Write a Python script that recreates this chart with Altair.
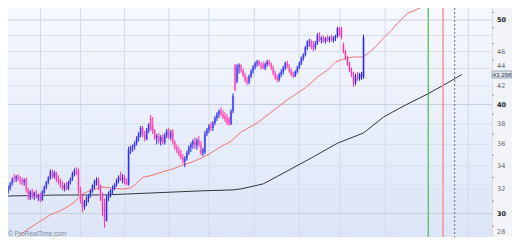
import altair as alt
import pandas as pd

# ---------------- data ----------------
opens = [31.5,31.8,32.1,32.5,33.0,32.9,33.1,32.8,32.7,32.6,32.9,31.9,31.3,31.8,31.4,31.7,31.3,31.5,31.1,31.7,
         32.2,32.6,33.0,33.5,33.1,33.4,32.8,32.6,32.3,32.1,32.3,32.0,32.6,32.9,33.3,33.6,33.6,31.9,31.2,30.5,
         30.9,31.2,31.5,31.9,32.3,32.6,32.8,32.1,31.3,30.5,29.4,31.3,31.6,31.9,32.1,32.4,32.7,33.1,32.8,33.0,
         32.6,32.4,35.5,35.7,35.8,36.1,36.6,37.0,37.6,36.9,36.5,37.4,38.6,37.9,37.3,36.6,36.8,36.3,36.7,36.2,
         36.9,37.3,36.7,37.2,36.2,35.7,35.4,35.1,34.8,34.4,34.7,35.2,35.7,36.0,36.3,35.9,36.4,36.0,35.2,35.3,
         37.0,37.4,37.8,37.6,38.1,38.6,39.0,39.4,39.0,38.8,38.6,38.5,38.0,39.3,44.4,42.5,44.2,44.3,43.7,43.2,
         42.6,42.4,43.1,43.7,44.2,44.6,44.8,44.4,44.5,44.0,44.5,44.8,44.5,44.0,43.4,42.9,42.7,43.3,43.6,44.1,
         44.7,44.2,43.7,43.3,43.1,43.6,44.1,44.6,45.2,45.6,46.5,47.2,47.3,46.8,46.5,47.0,48.1,47.4,47.7,47.3,
         47.6,47.4,47.8,47.4,47.7,47.9,48.9,48.9,46.9,45.9,45.2,44.5,43.8,43.3,42.3,43.1,42.8,43.0,43.0,53.2,
         53.8,54.2,54.0,54.4,55.0,54.7,55.1,55.5,55.2,54.9,55.1,55.4,55.0,54.5,54.7,54.3,53.9,54.1,53.8,53.4,
         53.3,52.8,53.0,52.4,53.3,53.8,54.1,54.0,54.3,54.6,54.2,53.9,53.5,53.7,53.4,53.0,53.3,53.6,52.9]
highs = [31.9,32.3,32.6,33.0,33.3,33.2,33.3,33.1,33.0,32.9,33.0,32.1,31.9,32.0,31.8,31.9,31.6,31.7,31.9,32.3,
         32.7,33.1,33.7,33.7,33.6,33.5,33.2,32.9,32.7,32.5,32.6,32.7,33.0,33.5,33.8,33.9,33.8,32.2,31.5,31.1,
         31.4,31.6,32.0,32.4,32.8,33.0,33.0,32.4,31.7,31.2,31.5,31.8,32.0,32.3,32.5,32.9,33.2,33.5,33.3,33.2,
         32.9,35.8,35.9,36.0,36.3,36.8,37.2,37.8,37.8,37.3,37.6,38.1,38.9,38.7,37.5,37.0,37.1,36.9,37.0,37.1,
         37.5,37.6,37.4,37.5,36.4,36.0,35.8,35.5,35.1,34.9,35.4,35.9,36.2,36.5,36.7,36.6,36.8,36.3,35.7,37.3,
         37.6,38.0,38.2,38.3,38.8,39.2,39.5,39.7,39.4,39.2,39.0,38.7,39.5,41.2,44.5,44.5,44.6,44.5,44.0,43.5,
         43.0,43.3,43.9,44.4,44.8,45.0,45.0,44.7,44.8,44.7,45.0,45.0,44.7,44.3,43.7,43.3,43.5,43.9,44.3,44.8,
         44.9,44.5,44.0,43.6,43.8,44.3,44.8,45.4,45.8,46.7,47.4,47.6,47.5,47.3,47.3,48.3,48.4,47.9,48.0,47.8,
         48.0,47.9,48.1,47.9,48.1,49.1,49.1,49.1,47.1,46.2,45.5,44.8,44.1,43.6,43.4,43.6,43.5,43.6,48.1,54.0,
         54.5,54.8,54.6,55.2,55.5,55.3,55.8,56.0,55.6,55.4,55.7,55.9,55.3,55.0,55.2,54.8,54.4,54.6,54.2,53.9,
         53.8,53.2,53.2,53.5,54.0,54.4,54.7,54.5,54.9,55.0,54.6,54.3,54.0,54.2,53.8,53.6,53.9,54.0,53.5]
lows = [31.3,31.6,31.9,32.3,32.6,32.6,32.7,32.4,32.3,32.3,31.7,31.1,31.1,31.2,31.1,31.2,31.0,30.9,31.0,31.6,
        32.0,32.4,32.8,32.9,32.9,32.6,32.4,32.1,31.9,31.8,31.9,31.9,32.4,32.7,33.1,33.2,31.6,30.8,30.1,30.3,
        30.6,30.9,31.3,31.7,32.0,32.3,31.9,31.0,29.8,28.9,29.4,31.0,31.3,31.6,31.9,32.2,32.5,32.7,32.5,32.4,
        32.3,32.3,35.1,35.3,35.5,35.9,36.3,36.7,36.7,36.3,36.4,37.1,37.3,37.0,36.4,36.0,36.1,35.9,36.0,36.0,
        36.6,36.5,36.4,36.0,35.5,35.2,34.9,34.6,34.2,33.9,34.5,35.0,35.3,35.6,35.6,35.5,35.8,35.0,34.9,35.1,
        36.8,37.1,37.3,37.3,37.9,38.3,38.6,38.8,38.5,38.2,37.9,37.8,37.9,39.1,41.4,42.3,43.4,43.5,43.0,42.4,
        42.1,42.2,42.9,43.4,43.9,44.2,44.3,43.9,43.9,43.8,44.2,44.3,43.8,43.2,42.7,42.4,42.5,43.0,43.3,43.8,
        44.0,43.5,43.1,42.9,43.0,43.4,43.9,44.4,44.9,45.4,46.2,46.6,46.3,46.0,46.2,46.8,47.2,47.0,47.1,47.0,
        47.2,47.1,47.2,47.1,47.3,47.7,47.9,47.5,45.8,45.0,44.3,43.6,43.0,41.9,42.1,42.6,42.6,42.7,42.8,53.0,
        53.4,53.8,53.6,54.1,54.4,54.3,54.8,54.9,54.6,54.3,54.7,54.8,54.2,53.9,54.0,53.6,53.3,53.5,53.1,52.8,
        52.0,51.7,51.9,52.2,53.0,53.4,53.7,53.5,53.9,54.0,53.6,53.2,53.0,53.1,52.8,52.7,52.9,52.6,52.4]
closes = [31.8,32.2,32.5,32.8,32.8,33.1,32.8,32.6,32.5,32.8,31.9,31.3,31.8,31.4,31.7,31.3,31.5,31.1,31.8,32.2,
          32.6,33.0,33.5,33.1,33.4,32.8,32.6,32.3,32.1,32.3,32.0,32.6,32.9,33.3,33.6,33.4,31.9,31.0,30.5,30.9,
          31.2,31.5,31.9,32.3,32.6,32.8,32.1,31.2,30.2,29.4,31.3,31.6,31.9,32.1,32.4,32.7,33.0,32.8,33.0,32.6,
          32.4,35.5,35.7,35.8,36.1,36.6,37.0,37.6,36.9,36.5,37.4,37.9,37.5,37.3,36.6,36.8,36.3,36.7,36.2,36.9,
          37.3,36.7,37.1,36.2,35.7,35.4,35.1,34.8,34.4,34.7,35.2,35.7,36.0,36.3,35.9,36.4,36.0,35.2,35.5,37.0,
          37.4,37.8,37.6,38.1,38.6,39.0,39.3,39.0,38.7,38.5,38.1,38.0,39.3,40.9,41.6,44.2,44.4,43.7,43.2,42.6,
          42.4,43.1,43.7,44.2,44.6,44.8,44.4,44.1,44.0,44.5,44.8,44.5,44.0,43.4,42.9,42.7,43.3,43.6,44.1,44.6,
          44.2,43.7,43.3,43.1,43.6,44.1,44.6,45.2,45.6,46.5,47.2,47.3,46.5,46.3,47.0,48.0,47.4,47.7,47.3,47.6,
          47.4,47.8,47.4,47.7,47.9,48.9,48.1,47.7,46.0,45.2,44.5,43.8,43.3,42.3,43.1,42.8,43.3,43.4,47.8,53.8,
          54.2,54.0,54.4,55.0,54.7,55.1,55.5,55.2,54.9,55.1,55.4,55.0,54.5,54.7,54.3,53.9,54.1,53.8,53.4,53.1,
          52.3,52.0,52.4,53.3,53.8,54.1,54.0,54.3,54.6,54.2,53.9,53.5,53.7,53.4,53.0,53.3,53.6,52.9,53.2]

ma_short_idx = [0,5,10,16,22,28,32,34,36,39,43,47,52,58,62,65,68,73,78,83,88,93,98,102,107,112,117,125,
                140,149,155,160,164,169,173,178,181,184,188,192,195,200,206,211,216,219]
ma_short_val = [27.8,28.1,28.7,29.3,29.9,30.3,30.7,30.9,31.3,31.7,31.9,32.2,32.1,32.0,32.1,32.5,33.0,33.2,33.5,
                33.75,34.1,34.4,34.8,35.2,35.8,36.3,37.2,38.1,40.5,41.8,43.0,43.8,44.75,45.2,
                45.35,45.35,45.95,46.6,47.7,48.7,49.6,50.9,51.6,52.3,52.7,53.1]
ma_long_idx = [0,24,49,73,97,113,117,128,141,152,165,178,188,199,210,218,227]
ma_long_val = [31.42,31.5,31.51,31.68,31.85,31.93,32.02,32.44,33.66,34.74,36.12,37.11,38.71,39.96,41.14,
               42.12,43.298]

month_idx = [17.1, 37.1, 59.0, 81.0, 101.0, 123.6, 145.9, 166.3, 188.8, 210.2, 230.2]
grid_prices = [30, 32, 34, 36, 38, 40, 42, 44, 46, 48, 50]
label_prices = [28, 30, 32, 34, 36, 38, 40, 42, 44, 46, 50]
minor_prices = [29, 31, 33, 35, 37, 39, 41, 43, 45, 47, 49, 51]
markers = [{"i": 210.2, "kind": "green"}, {"i": 217.6, "kind": "red"}, {"i": 223.4, "kind": "dotted"}]
last_value = 43.298
watermark = "© ProRealTime.com"

# ---------------- tables ----------------
bars = pd.DataFrame({"i": list(range(len(opens))), "o": opens, "h": highs, "l": lows, "c": closes})
bars["up"] = bars["c"] >= bars["o"]
short_df = pd.DataFrame({"i": ma_short_idx, "v": ma_short_val})
long_df = pd.DataFrame({"i": ma_long_idx, "v": ma_long_val})
month_df = pd.DataFrame({"i": month_idx})
grid_df = pd.DataFrame({"p": grid_prices, "major": [p % 10 == 0 for p in grid_prices]})
label_df = pd.DataFrame({"p": label_prices, "t": [str(p) for p in label_prices],
                         "major": [p % 10 == 0 for p in label_prices]})
minor_df = pd.DataFrame({"p": minor_prices})
marker_df = pd.DataFrame(markers)
last_df = pd.DataFrame({"p": [last_value], "t": [f"{last_value:.3f}"]})
one = pd.DataFrame({"a": [0]})

W, H = 484, 229
LO, HI = 28.20, 51.61
xs = alt.Scale(domain=[3.41, 239.5], nice=False, zero=False)
ys = alt.Scale(type="log", domain=[LO, HI], nice=False, zero=False)

X = lambda f: alt.X(f, type="quantitative", scale=xs, axis=None)
Y = lambda f: alt.Y(f, type="quantitative", scale=ys, axis=None)

bg = alt.Chart(one).mark_rect(
    color=alt.LinearGradient(gradient="linear",
                             stops=[alt.GradientStop(color="#f6f8ff", offset=0),
                                    alt.GradientStop(color="#dce5f7", offset=1)],
                             x1=0, x2=0, y1=0, y2=1)
).encode(x=alt.value(0), x2=alt.value(W), y=alt.value(0), y2=alt.value(H))

hgrid = alt.Chart(grid_df).mark_rule(strokeWidth=1).encode(
    y=Y("p"),
    color=alt.condition("datum.major", alt.value("#c6cede"), alt.value("#d8dfec")),
)
vgrid = alt.Chart(month_df).mark_rule(color="#d3dae9", strokeWidth=1).encode(x=X("i"))

body = alt.Chart(bars).mark_bar(width=2.2, clip=True).encode(
    x=X("i"), y=Y("o"), y2="c",
    color=alt.condition("datum.up", alt.value("#8f90f2"), alt.value("#ff9fd6")),
)
wick = alt.Chart(bars).mark_rule(strokeWidth=1, clip=True).encode(
    x=X("i"),
    y=alt.Y("l", type="quantitative", scale=ys,
            axis=alt.Axis(orient="right", values=grid_prices, grid=False, title=None, labels=False,
                          tickSize=4, tickColor="#8c9ab0", domainColor="#9aa7bb", zindex=1)),
    y2="h",
    color=alt.condition("datum.up", alt.value("#2727e6"), alt.value("#ff2fae")),
)

short_line = alt.Chart(short_df).mark_line(color="#f07474", strokeWidth=1, clip=True).encode(
    x=X("i"), y=Y("v"))
long_line = alt.Chart(long_df).mark_line(color="#363636", strokeWidth=1, clip=True).encode(
    x=X("i"), y=Y("v"))

mk = alt.Chart(marker_df)
green = mk.transform_filter("datum.kind == 'green'").mark_rule(color="#33b833", strokeWidth=1).encode(x=X("i"))
red = mk.transform_filter("datum.kind == 'red'").mark_rule(color="#f59a9a", strokeWidth=1.6).encode(x=X("i"))
dotted = mk.transform_filter("datum.kind == 'dotted'").mark_rule(
    color="#6d6d6d", strokeWidth=1, strokeDash=[2, 2]).encode(x=X("i"))

minor = alt.Chart(minor_df).mark_rule(color="#8c9ab0", strokeWidth=1).encode(
    y=Y("p"), x=alt.value(W), x2=alt.value(W + 2))

# 28 lies just below the visible range: its label is pinned inside the bottom edge
lab = alt.Chart(label_df).transform_calculate(
    pc=f"max(datum.p, {LO * 1.012})"
)
labels_minor = lab.transform_filter("!datum.major && datum.p != 44").mark_text(
    font="DejaVu Sans", fontSize=6.5, align="left", baseline="middle", color="#6a6a6a"
).encode(y=Y("pc"), x=alt.value(W + 5), text="t")
label_44 = lab.transform_filter("datum.p == 44").mark_text(
    font="DejaVu Sans", fontSize=6.5, align="left", baseline="middle", color="#6a6a6a", dy=-2
).encode(y=Y("pc"), x=alt.value(W + 5), text="t")
labels_major = lab.transform_filter("datum.major").mark_text(
    font="DejaVu Sans", fontSize=6.5, fontWeight="bold", align="left", baseline="middle", color="#1e1e1e"
).encode(y=Y("pc"), x=alt.value(W + 5), text="t")

box = alt.Chart(last_df).mark_point(
    shape="M-1,-0.35L1,-0.35L1,0.35L-1,0.35Z", size=400, filled=True, fill="#dfe5f0",
    stroke="#8d99ad", strokeWidth=0.8, opacity=1
).encode(y=Y("p"), x=alt.value(W + 10))
box_text = alt.Chart(last_df).mark_text(
    font="Liberation Sans", fontSize=6.2, color="#333a48", align="center", baseline="middle", dy=0.5
).encode(y=Y("p"), x=alt.value(W + 10), text="t")

wm = alt.Chart(one).mark_text(
    text=watermark, font="Liberation Sans", fontSize=6.5, color="#7b889c", align="left", baseline="alphabetic"
).encode(x=alt.value(0), y=alt.value(H - 1))

chart = alt.layer(
    bg, hgrid, vgrid, short_line, long_line, body, wick, green, red, dotted, minor,
    labels_minor, label_44, labels_major, box, box_text, wm
).properties(
    width=W, height=H, autosize="none",
    padding={"left": 0, "top": 0, "right": 20, "bottom": 0},
).configure_view(stroke=None).configure(background="#f2f4fa")

chart.save("out.html", embed_options={"renderer": "svg", "actions": False})
